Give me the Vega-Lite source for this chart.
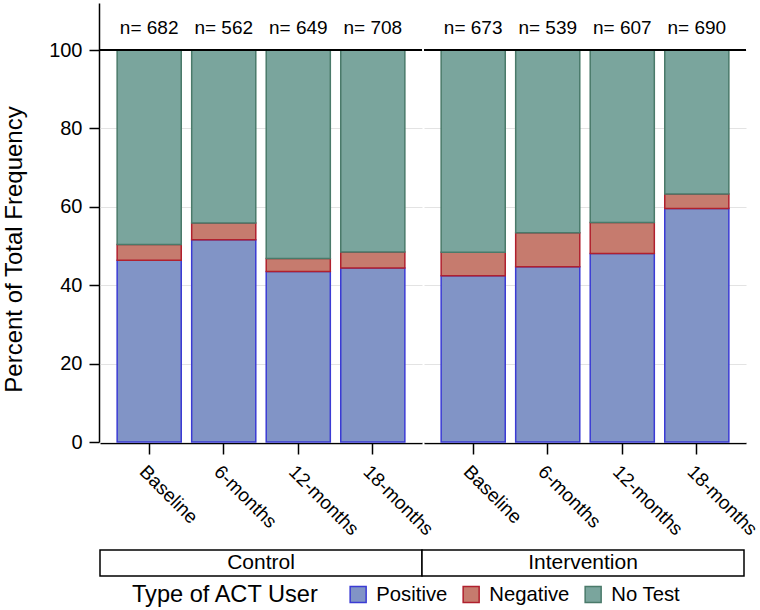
{
  "$schema": "https://vega.github.io/schema/vega-lite/v6.json",
  "padding": {"left": 2, "top": 3, "right": 2, "bottom": 2},
  "background": "white",
  "spacing": 10,
  "config": {
    "font": "Liberation Sans",
    "view": {"stroke": null},
    "axis": {"labelColor": "black", "titleColor": "black", "domainColor": "black", "tickColor": "black", "labelFont": "Liberation Sans", "titleFont": "Liberation Sans", "titleFontWeight": "normal"},
    "legend": {"labelFont": "Liberation Sans", "titleFont": "Liberation Sans"}
  },
  "vconcat": [
    {
      "data": {
        "values": [
          {"group": "Control", "time": "Baseline", "type": "Positive", "pct": 46.4, "n": 682},
          {"group": "Control", "time": "Baseline", "type": "Negative", "pct": 4.0, "n": 682},
          {"group": "Control", "time": "Baseline", "type": "No Test", "pct": 49.6, "n": 682},
          {"group": "Control", "time": "6-months", "type": "Positive", "pct": 51.6, "n": 562},
          {"group": "Control", "time": "6-months", "type": "Negative", "pct": 4.3, "n": 562},
          {"group": "Control", "time": "6-months", "type": "No Test", "pct": 44.1, "n": 562},
          {"group": "Control", "time": "12-months", "type": "Positive", "pct": 43.5, "n": 649},
          {"group": "Control", "time": "12-months", "type": "Negative", "pct": 3.3, "n": 649},
          {"group": "Control", "time": "12-months", "type": "No Test", "pct": 53.2, "n": 649},
          {"group": "Control", "time": "18-months", "type": "Positive", "pct": 44.4, "n": 708},
          {"group": "Control", "time": "18-months", "type": "Negative", "pct": 4.1, "n": 708},
          {"group": "Control", "time": "18-months", "type": "No Test", "pct": 51.5, "n": 708},
          {"group": "Intervention", "time": "Baseline", "type": "Positive", "pct": 42.4, "n": 673},
          {"group": "Intervention", "time": "Baseline", "type": "Negative", "pct": 6.0, "n": 673},
          {"group": "Intervention", "time": "Baseline", "type": "No Test", "pct": 51.6, "n": 673},
          {"group": "Intervention", "time": "6-months", "type": "Positive", "pct": 44.7, "n": 539},
          {"group": "Intervention", "time": "6-months", "type": "Negative", "pct": 8.7, "n": 539},
          {"group": "Intervention", "time": "6-months", "type": "No Test", "pct": 46.6, "n": 539},
          {"group": "Intervention", "time": "12-months", "type": "Positive", "pct": 48.1, "n": 607},
          {"group": "Intervention", "time": "12-months", "type": "Negative", "pct": 7.9, "n": 607},
          {"group": "Intervention", "time": "12-months", "type": "No Test", "pct": 44.0, "n": 607},
          {"group": "Intervention", "time": "18-months", "type": "Positive", "pct": 59.6, "n": 690},
          {"group": "Intervention", "time": "18-months", "type": "Negative", "pct": 3.7, "n": 690},
          {"group": "Intervention", "time": "18-months", "type": "No Test", "pct": 36.7, "n": 690}
        ]
      },
      "facet": {"column": {"field": "group", "type": "nominal", "header": {"title": null, "labels": false}}},
      "spacing": 0,
      "spec": {
        "width": 322,
        "height": 439,
        "layer": [
          {
            "transform": [{"calculate": "indexof(['Positive','Negative','No Test'], datum.type)", "as": "typeOrder"}],
            "mark": {"type": "bar", "strokeWidth": 1.5},
            "encoding": {
              "x": {"field": "time", "type": "nominal", "sort": ["Baseline", "6-months", "12-months", "18-months"],
                "scale": {"paddingInner": 0.14, "paddingOuter": 0.23},
                "axis": {"title": null, "labelAngle": 45, "labelAlign": "left", "labelBaseline": "top", "labelFontSize": 19, "tickSize": 11, "labelPadding": 8, "domainWidth": 1.5, "tickWidth": 1.5}},
              "y": {"field": "pct", "type": "quantitative", "stack": "zero",
                "scale": {"domain": [0, 112], "nice": false},
                "axis": {"title": "Percent of Total Frequency", "titleFontSize": 24, "titleY": 246, "values": [0, 20, 40, 60, 80, 100], "labelFontSize": 20, "tickSize": 10, "grid": true, "gridColor": "#e3e3e3", "gridWidth": 1, "domainWidth": 1.5, "tickWidth": 1.5, "titlePadding": 22, "labelPadding": 7}},
              "color": {"field": "type", "type": "nominal", "sort": ["Positive", "Negative", "No Test"],
                "scale": {"domain": ["Positive", "Negative", "No Test"], "range": ["#8194C6", "#C67B6E", "#7AA59D"]},
                "title": "Type of ACT User",
                "legend": {"orient": "none", "legendX": 32, "legendY": 581, "direction": "horizontal", "titleOrient": "left", "titleFontSize": 23.6, "titleFontWeight": "normal", "titleLimit": 500, "labelFontSize": 20.3, "symbolType": "square", "symbolSize": 256, "symbolStrokeWidth": 1.5, "columnPadding": 12, "labelOffset": 8, "titlePadding": 28, "labelColor": "black", "titleColor": "black"}},
              "stroke": {"field": "type", "type": "nominal", "sort": ["Positive", "Negative", "No Test"],
                "scale": {"domain": ["Positive", "Negative", "No Test"], "range": ["#3B3BD4", "#B0202E", "#4A7A6A"]},
                "title": "Type of ACT User"},
              "order": {"field": "typeOrder", "type": "quantitative"}
            }
          },
          {
            "mark": {"type": "rule", "color": "black", "strokeWidth": 1.5},
            "encoding": {"y": {"datum": 100}}
          },
          {
            "transform": [
              {"filter": "datum.type === 'Positive'"},
              {"calculate": "'n= ' + datum.n", "as": "nlabel"}
            ],
            "mark": {"type": "text", "fontSize": 19, "baseline": "middle", "color": "black"},
            "encoding": {
              "x": {"field": "time", "type": "nominal", "sort": ["Baseline", "6-months", "12-months", "18-months"]},
              "y": {"datum": 105.6},
              "text": {"field": "nlabel", "type": "nominal"}
            }
          }
        ]
      }
    },
    {
      "data": {"values": [{"group": "Control"}, {"group": "Intervention"}]},
      "width": 644,
      "height": 26,
      "layer": [
        {
          "mark": {"type": "rect", "fill": "white", "stroke": "black", "strokeWidth": 1.5},
          "encoding": {
            "x": {"field": "group", "type": "nominal", "scale": {"paddingInner": 0, "paddingOuter": 0}, "axis": null},
            "y": {"datum": 0, "type": "quantitative", "scale": {"domain": [0, 1], "nice": false},
              "axis": {"values": [0.5], "labelExpr": "'100'", "labelColor": "transparent", "labelFontSize": 20, "labelPadding": 7, "tickSize": 10, "tickColor": "transparent", "domain": false, "grid": false, "title": "P", "titleColor": "transparent", "titleFontSize": 24, "titlePadding": 22}},
            "y2": {"datum": 1}
          }
        },
        {
          "mark": {"type": "text", "fontSize": 21, "color": "black", "baseline": "middle"},
          "encoding": {"x": {"field": "group", "type": "nominal", "axis": null}, "text": {"field": "group"}}
        }
      ]
    }
  ]
}
